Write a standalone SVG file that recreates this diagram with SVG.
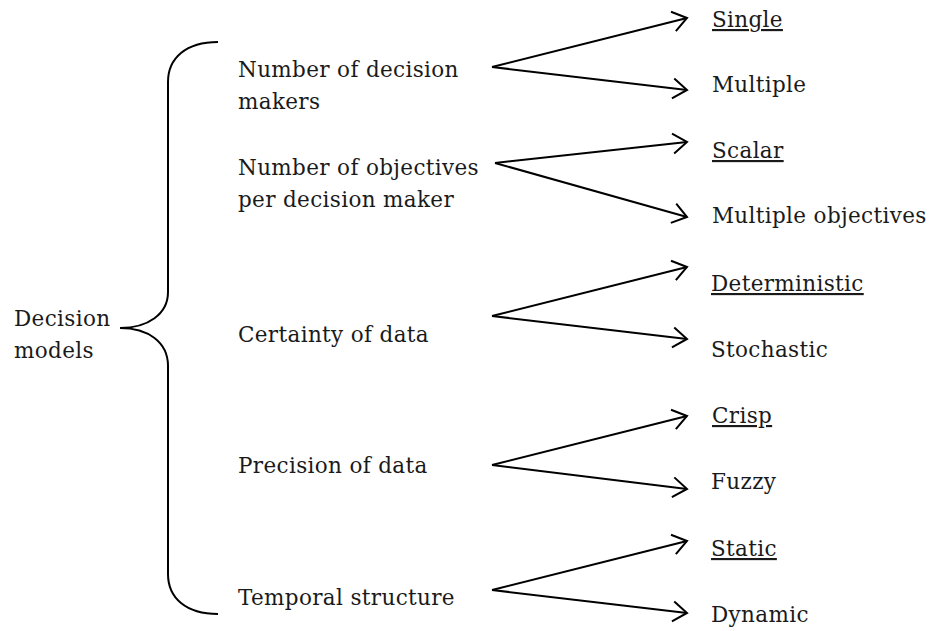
<svg xmlns="http://www.w3.org/2000/svg" width="930" height="631" viewBox="0 0 930 631">
  <style>
    text { font-family: "DejaVu Serif", "Liberation Serif", serif; font-size: 21.5px; letter-spacing: 0.35px; fill: #1a1a1a; }
    .u { text-decoration: underline; }
    .brace { fill: none; stroke: #000; stroke-width: 2; }
    .link { fill: none; stroke: #000; stroke-width: 2; marker-end: url(#chevron); }
  </style>
  <defs>
    <marker id="chevron" markerUnits="userSpaceOnUse" viewBox="-15 -12 17 24" refX="0" refY="0" markerWidth="17" markerHeight="24" orient="auto">
      <path d="M-14,-10 L0,0 L-14,10" fill="none" stroke="#000" stroke-width="2"/>
    </marker>
  </defs>
  <rect width="930" height="631" fill="#fff"/>

  <!-- root -->
  <g id="root">
    <text x="14" y="326">Decision</text>
    <text x="14" y="358">models</text>
    <path class="brace" d="M218,42 C186,42 168,58 168,82 L168,292 C168,314 148,328 120,328 C148,328 168,342 168,366 L168,574 C168,598 186,614 218,614"/>
  </g>

  <!-- criteria -->
  <g id="dm">
    <text x="238" y="77">Number of decision</text>
    <text x="238" y="109">makers</text>
  </g>
  <g id="obj">
    <text x="238" y="175">Number of objectives</text>
    <text x="238" y="207">per decision maker</text>
  </g>
  <g id="certainty">
    <text x="238" y="342">Certainty of data</text>
  </g>
  <g id="precision">
    <text x="238" y="473">Precision of data</text>
  </g>
  <g id="temporal">
    <text x="238" y="605">Temporal structure</text>
  </g>

  <!-- options -->
  <g id="single"><text class="u" x="712" y="27">Single</text></g>
  <g id="multiple"><text x="712" y="92">Multiple</text></g>
  <g id="scalar"><text class="u" x="712" y="158">Scalar</text></g>
  <g id="multi-obj"><text x="712" y="223">Multiple objectives</text></g>
  <g id="deterministic"><text class="u" x="711" y="291">Deterministic</text></g>
  <g id="stochastic"><text x="711" y="357">Stochastic</text></g>
  <g id="crisp"><text class="u" x="712" y="423">Crisp</text></g>
  <g id="fuzzy"><text x="711" y="489">Fuzzy</text></g>
  <g id="static"><text class="u" x="711" y="556">Static</text></g>
  <g id="dynamic"><text x="711" y="622">Dynamic</text></g>

  <!-- connectors -->
  <g id="connectors">
    <path class="link" d="M492,67 L687,18"/>
    <path class="link" d="M492,67 L687,90"/>
    <path class="link" d="M495,163 L687,142"/>
    <path class="link" d="M495,163 L687,217"/>
    <path class="link" d="M492,316 L687,267"/>
    <path class="link" d="M492,316 L687,339"/>
    <path class="link" d="M492,465 L687,416"/>
    <path class="link" d="M492,465 L687,489"/>
    <path class="link" d="M492,590 L687,541"/>
    <path class="link" d="M492,590 L687,613"/>
  </g>
</svg>
